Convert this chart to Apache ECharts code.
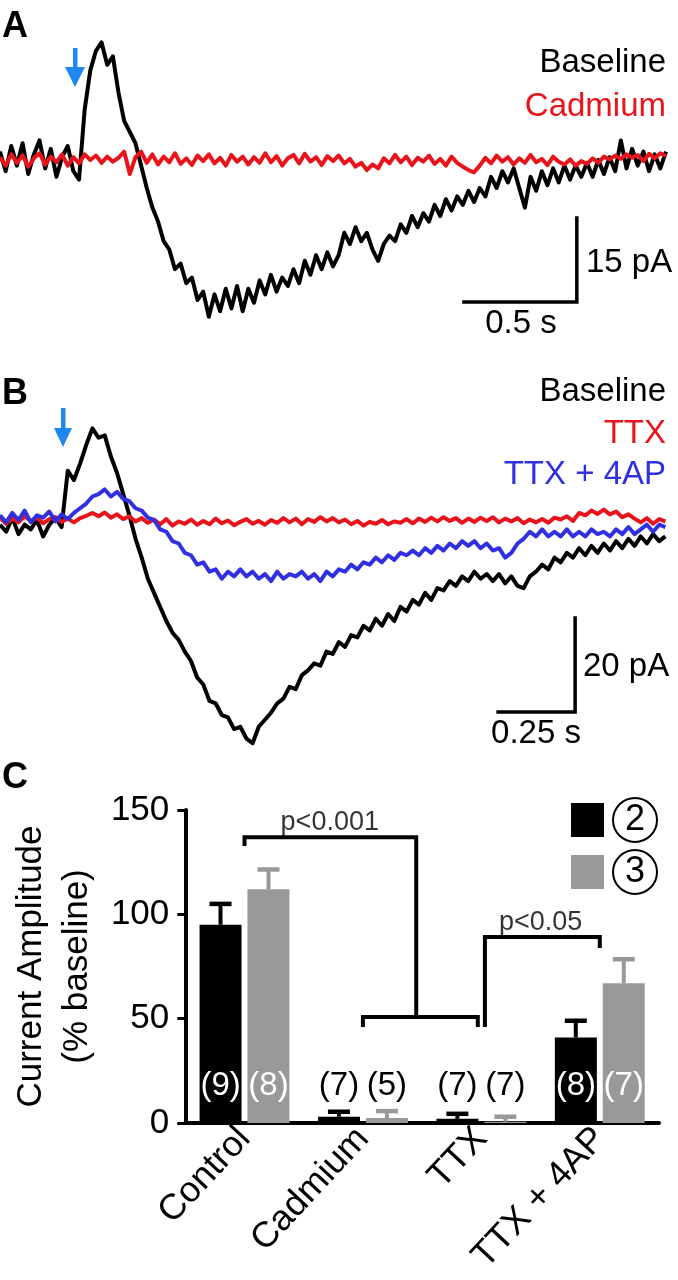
<!DOCTYPE html>
<html><head><meta charset="utf-8">
<script src="https://cdn.jsdelivr.net/npm/echarts@6/dist/echarts.min.js"></script>
<style>html,body{margin:0;padding:0;background:#fff}#c{width:678px;height:1280px}</style>
</head><body><div id="c"></div>
<script>
const FONT = '"Liberation Sans", Arial, Helvetica, sans-serif';

// ---------- Panel A (pA, sampled every dtA seconds) ----------
const dtA = 0.025;
const baselineA = [1.5,-2,2.5,-1,3,-2.5,1,3.5,-1.5,2,-3,0.5,2.5,-2,-3.5,
  9,16,19.5,21,17,18.5,12,
  7,5,3,-1,-5,-8.5,-11,-14.5,
  -16,-19.5,-18.5,-22,-21,-25,-23.5,-28,-24,-27,
  -23,-26.5,-22.5,-27,-23,-25.5,-21.5,-24,-20.5,-23.5,
  -21,-22.5,-19.5,-22,-18,-20.5,-17,-19.5,-16.5,-19,
  -17,-13,-15,-12,-14.5,-13,-16,-18,-15,-13.5,
  -14.5,-11.5,-13,-10,-12,-9.5,-11,-8,-10,-7,
  -9,-6.5,-8,-5.5,-7.5,-5,-6.5,-3,-5,-2,
  -4,-1.5,-5,-8.5,-3,-5.5,-2,-4.5,-1.5,-4,
  -1,-3.5,-1,-3,-0.5,-3,0,-2.5,0.5,-2,
  3.5,-1.5,2,-1,1.5,-2,1,-1.5,1.5];
const cadmiumA = [0.5,-1,1,-0.5,0.8,-1.2,0.3,1.2,-0.8,0.6,-0.4,1,-1,0.5,-0.6,
  1,0,0.8,-0.5,0.6,-0.3,0.4,1.5,-2.5,0.5,1.5,-0.5,1,-0.8,0.6,
  -0.4,1.2,-0.7,0.3,-0.9,0.8,-0.2,1,-0.6,0.4,-1,0.9,-0.3,0.6,-0.8,
  0.5,-0.5,1.2,-0.4,0.7,-1,0.3,0.9,-0.6,1.1,-0.3,0.5,-0.9,0.7,-0.2,
  0.8,-0.6,0.2,-1.2,-0.5,-1.8,-0.8,-1.5,0.3,-0.6,0.9,-0.4,0.6,-0.9,0.4,
  -0.3,0.8,-0.7,0.2,-1,0.6,-0.5,-1.2,-1.8,-2.2,-1,0.4,-0.6,0.8,-0.3,
  0.5,-0.8,0.3,-0.5,0.9,-0.4,0.2,-0.9,0.6,-0.3,-0.8,0.1,-1,-0.2,-0.7,
  0.3,-0.5,0.6,0.1,0.8,0.2,1,0.4,0.9,-0.2,1.1,0.3,1.2,0.7];
const scaleBarA = [[2.055,-25.36],[2.555,-25.36],[2.555,-10.36]]; // 0.5 s x 15 pA

// ---------- Panel B (pA, sampled every dtB seconds) ----------
const dtB = 0.02;
const baselineB = [-1,-2.5,0.5,-3,-1,-2,0,-3.5,-1,0.5,-1.5,
  10.5,8.5,12,16,19.5,17.5,18,13.5,10,5.5,1,
  -4,-8,-12.5,-15.5,-18.5,-21.5,-24,-25.5,-28,-30,-33.5,
  -35,-38.5,-39,-41.5,-42,-44.5,-44,-46.5,-47.5,-44,-42.5,
  -41,-39,-38,-35.5,-36,-33,-32,-30.5,-31,-28,-28.5,
  -26,-27,-24.5,-25,-22.5,-23.5,-21,-22.5,-20,-21.5,-18.5,
  -19.5,-17,-18,-15.5,-17,-14.5,-15,-13,-14,-12,-13,
  -11,-12.5,-11.5,-13,-11.5,-13.5,-12,-14,-14.5,-12,-11,
  -9.5,-10.5,-8,-9,-7,-8,-6,-7.5,-5.5,-7,-5,
  -6.5,-4.5,-6,-4,-5.5,-3.5,-5,-3,-4.5,-3.5];
const ttxB = [0.5,-0.8,0.3,-0.5,0.8,-0.2,0.5,-0.7,0.2,0.6,-0.4,
  0.3,-0.5,0.4,0.9,1.5,0.8,1.6,0.5,1.2,0.2,0.8,
  -0.3,0.4,-0.6,0.1,-0.9,0.2,-1.2,-0.3,-0.8,0.1,-1,
  -0.2,-0.9,0.3,-0.7,-0.1,-1.1,-0.4,0.2,-0.8,-0.2,-1,
  0,-0.6,0.4,-0.5,0.3,-0.9,0.2,-0.4,0.6,-0.3,0.4,
  -0.5,0.1,-0.9,-0.2,-1.2,-0.4,-0.8,0,-0.9,-0.3,-0.6,
  0.2,-0.7,0.3,-0.4,0.5,-0.3,0.6,-0.2,0.4,-0.6,0.3,
  -0.4,0.5,-0.2,0.6,-0.5,0.3,-0.3,0.4,-0.7,0.1,-0.5,
  0.2,-0.6,0.5,0.1,0.8,-0.2,1.5,1,2,1.3,2.2,
  1.2,1.8,0.6,1.2,0.3,-0.5,0.4,-0.8,0.2,-0.3];
const ttx4apB = [1,-0.5,1.5,0,2,-0.5,1,0.5,1.8,-0.3,1.2,
  0.2,1.5,2.5,3.5,5,5.5,6.5,5,6,4.5,4,
  2.5,2,0.5,0,-2,-2.5,-4.5,-5,-7,-7.5,-9.5,
  -9,-11,-10.5,-12.5,-11,-12,-10.5,-12,-11,-12.5,-11.5,
  -13,-11,-12.5,-11.5,-12,-11,-12.5,-11.5,-13,-11,-12,
  -10.5,-11,-9.5,-10.5,-9,-9.5,-8,-9,-7.5,-8.5,-7,
  -7.5,-6.5,-7.5,-6,-7,-5.5,-6.5,-5,-6,-4.5,-5.5,
  -4.5,-6,-5,-6.5,-6,-8,-7,-5,-4,-2.5,-3.5,
  -2,-3.5,-2.5,-3.5,-2,-3.5,-2.5,-3.5,-2,-3,-2.5,
  -3.5,-2,-3,-1.5,-3,-2,-1,-2.5,-1,-1.5];
const scaleBarB = [[1.617,-40.85],[1.867,-40.85],[1.867,-20.85]]; // 0.25 s x 20 pA

// ---------- Panel C ----------
const categories = ['Control','Cadmium','TTX','TTX + 4AP'];
const groupNames = ['2','3'];
const mean2 = [95, 3, 2, 41];
const sem2  = [10, 2.4, 2.4, 8];
const mean3 = [112, 2.4, 0.6, 67];
const sem3  = [9.5, 3.3, 2.4, 11.5];
const n2 = [9, 7, 7, 8];
const n3 = [8, 5, 7, 7];
const brackets = [
  [[0.5,132.7],[0.5,136.9],[1.95,136.9],[1.95,50.8]],
  [[1.5,46],[1.5,50.8],[2.47,50.8],[2.47,46]],
  [[2.53,46],[2.53,89.1],[3.5,89.1],[3.5,83.9]]
];
const pLabels = [[1.22,143.8,'p<0.001'],[3.0,96.3,'p<0.05']];

const toXY = (arr, dt) => arr.map((v, i) => [i * dt, v]);

function traceSeries(data, dt, color, xi) {
  return {type:'line', xAxisIndex:xi, yAxisIndex:xi, data:toXY(data, dt), symbol:'none',
    clip:false, silent:true, lineStyle:{color:color, width:4, join:'round'}};
}
function scaleSeries(data, xi) {
  return {type:'line', xAxisIndex:xi, yAxisIndex:xi, data:data, symbol:'none', clip:false, silent:true,
    lineStyle:{color:'#000', width:3.5, join:'miter', cap:'square'}};
}
function errRender(offset, color) {
  return function (params, api) {
    const x = api.value(0), m = api.value(1), e = api.value(2);
    const p0 = api.coord([x, m]);
    const p1 = api.coord([x, m + e]);
    const cx = p0[0] + offset;
    return {type:'group', children:[
      {type:'line', shape:{x1:cx, y1:p0[1], x2:cx, y2:p1[1]}, style:{stroke:color, lineWidth:4}},
      {type:'line', shape:{x1:cx - 11, y1:p1[1], x2:cx + 11, y2:p1[1]}, style:{stroke:color, lineWidth:4.5}}
    ]};
  };
}
function barData(means) {
  return means.map(v => ({value:v, label:{color: v > 20 ? '#fff' : '#000'}}));
}

const chart = echarts.init(document.getElementById('c'), null, {renderer:'canvas'});
const txt = (x, y, text, opt) => Object.assign({type:'text', x:x, y:y, silent:true,
  style:Object.assign({text:text, fill:'#000', font:'33px ' + FONT, textAlign:'left', align:'left',
    textVerticalAlign:'middle', verticalAlign:'middle'}, opt || {})});
const ARROW = '#1e88f0';

chart.setOption({
  animation:false,
  backgroundColor:'#fff',
  grid:[
    {left:0, top:36.8, width:666, height:291.2},
    {left:0, top:402.5, width:666, height:352.5},
    {left:171, top:810, width:488, height:313}
  ],
  xAxis:[
    {gridIndex:0, type:'value', min:0, max:2.95, show:false},
    {gridIndex:1, type:'value', min:0, max:2.162, show:false},
    {gridIndex:2, type:'category', data:categories,
      axisLine:{show:true, lineStyle:{color:'#000', width:4}}, axisTick:{show:false},
      axisLabel:{rotate:47, interval:0, fontSize:36, color:'#000', fontFamily:FONT, margin:10}},
    {gridIndex:2, type:'value', min:0, max:4, show:false}
  ],
  yAxis:[
    {gridIndex:0, type:'value', min:-30, max:22, show:false},
    {gridIndex:1, type:'value', min:-50, max:25, show:false},
    {gridIndex:2, type:'value', min:0, max:150, interval:50,
      name:'Current Amplitude\n(% baseline)', nameLocation:'middle', nameGap:67,
      nameTextStyle:{fontSize:35, lineHeight:46, color:'#000', fontFamily:FONT},
      axisLine:{show:true, lineStyle:{color:'#000', width:4}},
      axisTick:{show:true, length:8, lineStyle:{color:'#000', width:3}},
      axisLabel:{fontSize:35, color:'#000', fontFamily:FONT, margin:16},
      splitLine:{show:false}}
  ],
  legend:{data:groupNames, orient:'vertical', left:566, top:792, itemWidth:33, itemHeight:34, itemGap:6,
    selectedMode:false, icon:'rect',
    formatter: n => '{s|}{c|' + n + '}',
    textStyle:{rich:{
      s:{width:4},
      c:{fontSize:36, fontFamily:FONT, color:'#000', width:44, height:44, lineHeight:44, align:'center',
        verticalAlign:'middle', borderColor:'#000', borderWidth:2, borderRadius:23}
    }}},
  series:[
    traceSeries(baselineA, dtA, '#000', 0),
    traceSeries(cadmiumA, dtA, '#e8141b', 0),
    scaleSeries(scaleBarA, 0),
    traceSeries(baselineB, dtB, '#000', 1),
    traceSeries(ttxB, dtB, '#e8141b', 1),
    traceSeries(ttx4apB, dtB, '#3030e0', 1),
    scaleSeries(scaleBarB, 1),
    {type:'bar', name:'2', xAxisIndex:2, yAxisIndex:2, data:barData(mean2), barWidth:42, barGap:'14%',
      itemStyle:{color:'#000'},
      label:{show:true, position:'insideBottom', distance:21, fontSize:33, fontFamily:FONT,
        formatter: p => '(' + n2[p.dataIndex] + ')'}},
    {type:'bar', name:'3', xAxisIndex:2, yAxisIndex:2, data:barData(mean3), barWidth:42, barGap:'14%',
      itemStyle:{color:'#999999'},
      label:{show:true, position:'insideBottom', distance:21, fontSize:33, fontFamily:FONT,
        formatter: p => '(' + n3[p.dataIndex] + ')'}},
    {type:'custom', xAxisIndex:2, yAxisIndex:2, encode:{x:0, y:1}, silent:true,
      data:mean2.map((m, i) => [i, m, sem2[i]]), renderItem:errRender(-24, '#000')},
    {type:'custom', xAxisIndex:2, yAxisIndex:2, encode:{x:0, y:1}, silent:true,
      data:mean3.map((m, i) => [i, m, sem3[i]]), renderItem:errRender(24, '#999999')}
  ].concat(brackets.map(b => ({type:'line', xAxisIndex:3, yAxisIndex:2, data:b, symbol:'none', silent:true,
      clip:false, lineStyle:{color:'#000', width:4, join:'miter'}})))
   .concat([{type:'scatter', xAxisIndex:3, yAxisIndex:2, data:pLabels, symbolSize:0, silent:true,
      label:{show:true, position:'inside', formatter: p => p.value[2], fontSize:27, color:'#000',
        textBorderWidth:0, fontFamily:FONT}}]),
  graphic:[
    txt(2, 27, 'A', {font:'bold 36px ' + FONT}),
    txt(2, 394, 'B', {font:'bold 36px ' + FONT}),
    txt(2, 778, 'C', {font:'bold 36px ' + FONT}),
    txt(666, 63, 'Baseline', {textAlign:'right', align:'right'}),
    txt(666, 107, 'Cadmium', {textAlign:'right', align:'right', fill:'#e8141b'}),
    txt(666, 392, 'Baseline', {textAlign:'right', align:'right'}),
    txt(666, 434, 'TTX', {textAlign:'right', align:'right', fill:'#e8141b'}),
    txt(666, 475, 'TTX + 4AP', {textAlign:'right', align:'right', fill:'#3030e0'}),
    txt(586, 263, '15 pA'),
    txt(521, 324, '0.5 s', {textAlign:'center', align:'center'}),
    txt(583, 667, '20 pA'),
    txt(536, 734, '0.25 s', {textAlign:'center', align:'center'}),
    {type:'rect', shape:{x:73, y:48, width:4.5, height:22}, style:{fill:ARROW}},
    {type:'polygon', shape:{points:[[65,67],[85,67],[75,87]]}, style:{fill:ARROW}},
    {type:'rect', shape:{x:61, y:408, width:4.5, height:22}, style:{fill:ARROW}},
    {type:'polygon', shape:{points:[[54,428],[72,428],[63,447]]}, style:{fill:ARROW}}
  ]
});
</script>
</body></html>
